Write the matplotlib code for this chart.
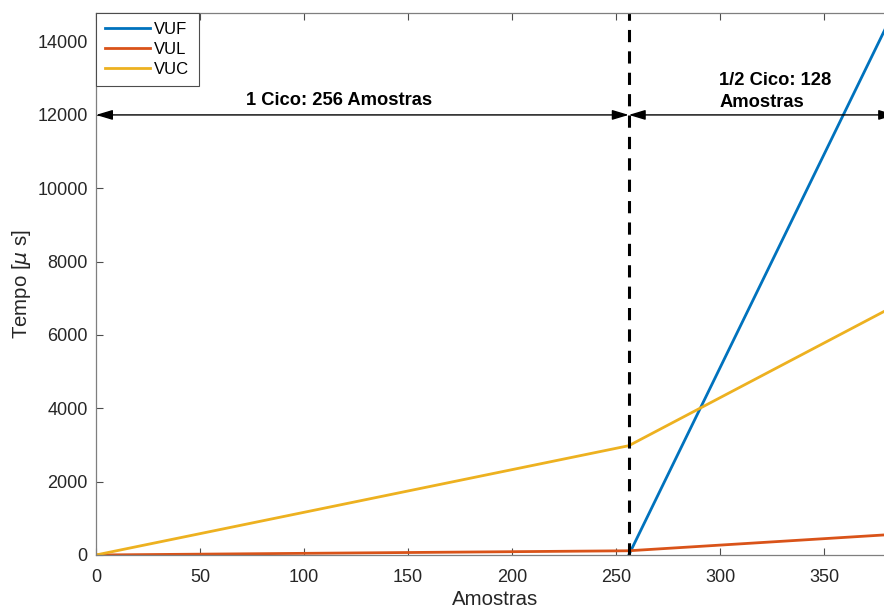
import matplotlib
matplotlib.use('Agg')
import matplotlib.pyplot as plt

plt.rcParams['font.family'] = ['Liberation Sans', 'DejaVu Sans']

amostras = [0, 256, 384]
vul = [0, 115, 565]
vuc = [0, 2980, 6800]
amostras_vuf = [256, 384]
vuf_vals = [0, 14900]

ciclo = 256
meio_ciclo = 384
seta_y = 12000

fig = plt.figure(figsize=(8.84, 6.09), dpi=100)
ax = fig.add_axes([0.1086, 0.0887, 0.904, 0.890])

ax.plot(amostras_vuf, vuf_vals, color='#0072BD', lw=2, label='VUF')
ax.plot(amostras, vul, color='#D95319', lw=2, label='VUL')
ax.plot(amostras, vuc, color='#EDB120', lw=2, label='VUC')

ax.axvline(ciclo, color='black', lw=2.2, ls=(0, (4, 3)))

estilo = '<|-|>,head_length=1.0,head_width=0.3'
ax.annotate('', xy=(0, seta_y), xytext=(ciclo, seta_y),
            arrowprops=dict(arrowstyle=estilo, color='black', lw=1,
                            shrinkA=0, shrinkB=0))
ax.annotate('', xy=(ciclo, seta_y), xytext=(meio_ciclo, seta_y),
            arrowprops=dict(arrowstyle=estilo, color='black', lw=1,
                            shrinkA=0, shrinkB=0))
ax.text(117, 12400, '1 Cico: 256 Amostras', fontsize=13.2, fontweight='bold',
        ha='center', va='center')
ax.text(299.5, 12640, '1/2 Cico: 128\nAmostras', fontsize=13.2, fontweight='bold',
        ha='left', va='center', linespacing=1.4)

ax.set_xlim(0, 384)
ax.set_ylim(0, 14780)
ax.set_xticks(range(0, 351, 50))
ax.set_yticks(range(0, 14001, 2000))
ax.tick_params(direction='in', top=True, right=True, length=5, width=0.8,
               color='#4d4d4d', labelsize=13, labelcolor='#262626')
ax.tick_params(axis='x', pad=10)
ax.tick_params(axis='y', pad=6)
for s in ax.spines.values():
    s.set_color('#7f7f7f')
    s.set_linewidth(0.9)

ax.set_xlabel('Amostras', fontsize=14.7, color='#262626', labelpad=3)
ax.set_ylabel(r'Tempo [$\mu$ s]', fontsize=14.7, color='#262626', labelpad=3)

leg = ax.legend(loc='upper left', borderaxespad=0, fontsize=12, handlelength=2.7,
                fancybox=False, framealpha=1, edgecolor='#4d4d4d',
                borderpad=0.55, labelspacing=0.3, handletextpad=0.25)
leg.get_frame().set_linewidth(0.8)

plt.savefig('out.png', dpi=100)
